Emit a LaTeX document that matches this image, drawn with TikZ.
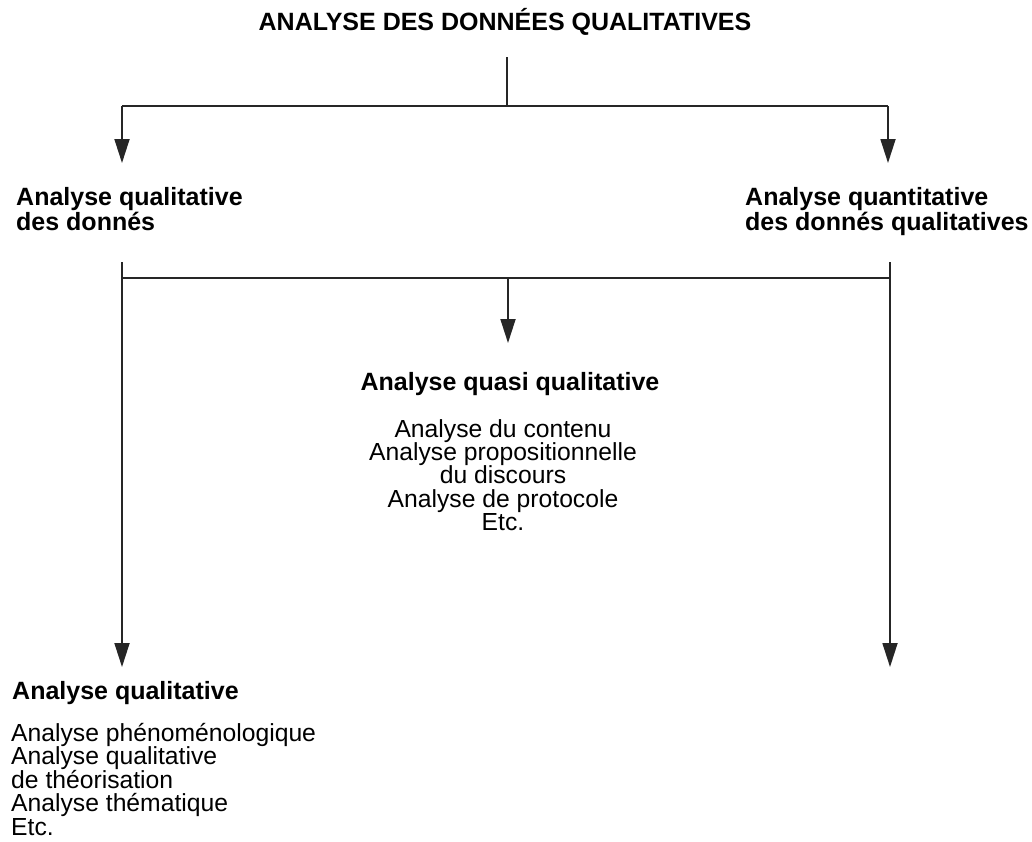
\documentclass[tikz,border=0pt]{standalone}
\usepackage{fontspec}
\setmainfont{Liberation Sans}
\usetikzlibrary{arrows.meta}
\begin{document}
\begin{tikzpicture}[x=1pt,y=-1pt,
  conn/.style={line width=1.8pt,draw=black!85},
  arr/.style={conn,-{Triangle[length=24pt,width=15pt]}},
  head/.style={inner sep=0pt,font=\fontsize{25}{25}\selectfont\bfseries},
  txt/.style={inner sep=0pt,font=\fontsize{24.7}{23.4}\selectfont}]
\useasboundingbox[fill=white] (0,0) rectangle (1032,841);
% title
\node[head,anchor=base] (title) at (505,30) {ANALYSE DES DONNÉES QUALITATIVES};
\coordinate (t0) at (507,57);
\coordinate (t1) at (507,106);
\coordinate (tl) at (122,106);
\coordinate (tr) at (888,106);
\coordinate (l1) at (122,163);
\coordinate (r1) at (888,163);
\draw[conn] (t0) -- (t1);
\draw[conn] (tl) -- (tr);
\draw[arr] (tl) -- (l1);
\draw[arr] (tr) -- (r1);
% second level headings
\node[head,align=left,anchor=north west] (lq) at (16,187) {Analyse qualitative\\des donnés};
\node[head,align=left,anchor=north west] (rq) at (745,187) {Analyse quantitative\\des donnés qualitatives};
% second bar
\coordinate (la) at (122,262);
\coordinate (ra) at (890,262);
\coordinate (lb) at (122,278);
\coordinate (rb) at (890,278);
\coordinate (mb) at (508,278);
\coordinate (lend) at (122,667);
\coordinate (rend) at (890,667);
\coordinate (mend) at (508,343);
\draw[conn] (lb) -- (rb);
\draw[arr] (la) -- (lend);
\draw[arr] (ra) -- (rend);
\draw[arr] (mb) -- (mend);
% middle
\node[head,anchor=base] (mq) at (510,390) {Analyse quasi qualitative};
\node[txt,align=center,anchor=north] (ml) at (503,419) {Analyse du contenu\\Analyse propositionnelle\\du discours\\Analyse de protocole\\Etc.};
% bottom left
\node[head,anchor=base west] (bq) at (12,699) {Analyse qualitative};
\node[txt,align=left,anchor=north west] (bl) at (11,723) {Analyse phénoménologique\\Analyse qualitative\\de théorisation\\Analyse thématique\\Etc.};
\end{tikzpicture}
\end{document}
